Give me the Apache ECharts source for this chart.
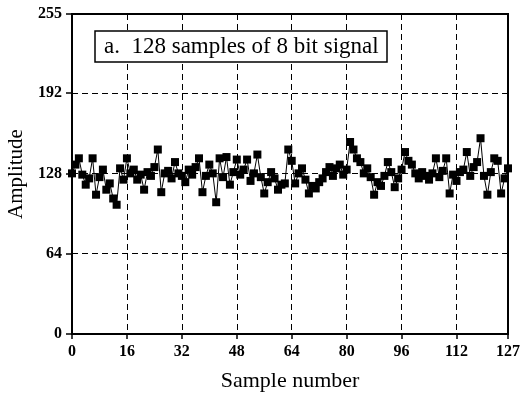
<!DOCTYPE html>
<html>
<head>
<meta charset="utf-8">
<script src="https://cdn.jsdelivr.net/npm/echarts@6/dist/echarts.min.js"></script>
<style>
  html, body { margin: 0; padding: 0; background: #fff; }
  #chart { width: 522px; height: 394px; }
</style>
</head>
<body>
<div id="chart"></div>
<script>
// Amplitude of each sample (index = sample number)
const amplitudes = [
  128, 135, 140, 127, 119, 124, 140, 111, 125, 131, 115, 120, 108, 103, 132, 123,
  140, 128, 131, 123, 127, 115, 129, 126, 133, 147, 113, 128, 130, 124, 137, 128,
  126, 121, 131, 127, 133, 140, 113, 126, 135, 128, 105, 140, 125, 141, 119, 129,
  139, 127, 131, 139, 122, 128, 143, 125, 112, 121, 129, 124, 115, 119, 120, 147,
  138, 120, 128, 132, 123, 112, 118, 116, 121, 124, 129, 133, 126, 132, 135, 127,
  131, 153, 147, 140, 137, 128, 132, 125, 111, 121, 118, 126, 137, 129, 117, 124,
  131, 145, 138, 135, 128, 124, 129, 126, 123, 128, 140, 125, 130, 140, 112, 127,
  122, 129, 131, 145, 126, 133, 137, 156, 126, 111, 129, 140, 138, 112, 124, 132
];
const titleText = 'a.  128 samples of 8 bit signal';
const xName = 'Sample number';
const yName = 'Amplitude';

const points = amplitudes.map((v, i) => [i, v]);

const FONT = '"Liberation Serif", "DejaVu Serif", serif';

const chart = echarts.init(document.getElementById('chart'));

const dashed = { color: '#000', width: 1, type: [6, 4] };

chart.setOption({
  animation: false,
  backgroundColor: '#fff',
  title: {
    text: titleText,
    left: 95,
    top: 31,
    padding: [4, 9, 4, 9],
    borderColor: '#000',
    borderWidth: 1.5,
    backgroundColor: '#fff',
    textStyle: { fontFamily: FONT, fontSize: 23, fontWeight: 'normal', color: '#000' }
  },
  grid: {
    left: 72, right: 14, top: 14, bottom: 60,
    outerBoundsMode: 'none',
    containLabel: false,
    show: true, borderColor: '#000', borderWidth: 2
  },
  xAxis: {
    type: 'value',
    min: 0, max: 127, interval: 16,
    name: xName,
    nameLocation: 'middle',
    nameGap: 36,
    nameTextStyle: { fontFamily: FONT, fontSize: 22, color: '#000' },
    axisLine: { show: true, lineStyle: { color: '#000', width: 2 } },
    axisTick: { show: true, length: 5, lineStyle: { color: '#000', width: 1.5 } },
    axisLabel: { fontFamily: FONT, fontSize: 16, fontWeight: 'bold', color: '#000', margin: 10 },
    splitLine: { show: true, lineStyle: dashed }
  },
  yAxis: {
    type: 'value',
    min: 0, max: 255, interval: 64,
    name: yName,
    nameLocation: 'middle',
    nameGap: 44,
    nameTextStyle: { fontFamily: FONT, fontSize: 21, color: '#000' },
    axisLine: { show: true, lineStyle: { color: '#000', width: 2 } },
    axisTick: { show: true, length: 6, lineStyle: { color: '#000', width: 1.5 } },
    axisLabel: { fontFamily: FONT, fontSize: 16, fontWeight: 'bold', color: '#000', margin: 10 },
    splitLine: { show: true, lineStyle: dashed }
  },
  series: [{
    type: 'line',
    data: points,
    symbol: 'rect',
    symbolSize: 8,
    showAllSymbol: true,
    itemStyle: { color: '#000' },
    lineStyle: { color: '#000', width: 1 }
  }]
});
</script>
</body>
</html>
